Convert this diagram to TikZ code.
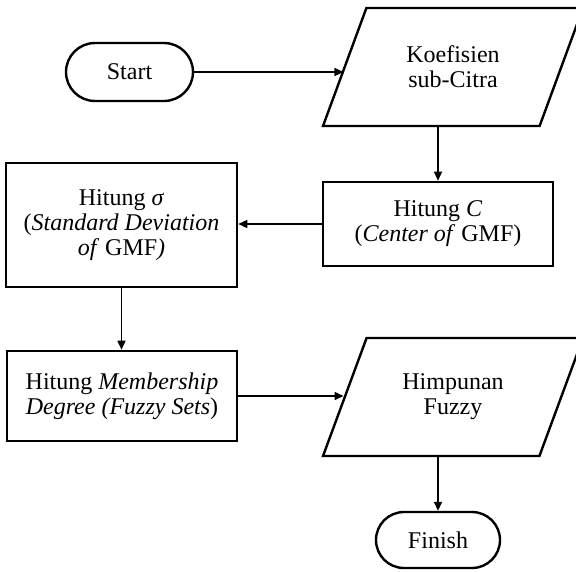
\documentclass[tikz,border=0pt]{standalone}
\usepackage{fontspec}
\setmainfont{Liberation Serif}
\usetikzlibrary{arrows.meta, shapes.geometric, shapes.misc}

\begin{document}
\begin{tikzpicture}[x=1pt, y=-1pt,
	every node/.style={font=\fontsize{24}{25}\selectfont, align=center, inner sep=0pt},
	term/.style={draw, line width=2.4pt, rounded rectangle},
	io/.style={draw, line width=2.4pt, trapezium, trapezium left angle=61, trapezium right angle=119,
		trapezium stretches=true, minimum width=260pt, minimum height=118pt},
	proc/.style={draw, line width=2.6pt, rectangle},
	flow/.style={line width=1.6pt, -{Triangle[length=9pt, width=8pt]}}]
				\useasboundingbox (0,0) rectangle (576,571);

				\node[term, minimum width=127pt, minimum height=58pt] (start) at (129.5,72) {Start};
				\node[io] (koef) at (453,67) {Koefisien\\sub-Citra};
				\node[proc, minimum width=230pt, minimum height=84pt] (hitc) at (438,224) {Hitung \textit{C}\\(\textit{Center of} GMF)};
				\node[proc, minimum width=231pt, minimum height=124pt] (hitsig) at (121.5,225) {Hitung \textit{σ}\\(\textit{Standard Deviation}\\\textit{of} GMF\textit{)}};
				\node[proc, minimum width=230pt, minimum height=90pt] (hitmemb) at (122,396) {Hitung \textit{Membership}\\\textit{Degree (Fuzzy Sets})};
				\node[io] (himp) at (453,397) {Himpunan\\Fuzzy};
				\node[term, minimum width=124pt, minimum height=56pt] (finish) at (438,540) {Finish};

				\draw[flow] (start.east) -- (start.east -| koef.west);
				\draw[flow] (koef.south -| hitc.north) -- (hitc.north);
				\draw[flow] (hitc.west) -- (hitsig.east |- hitc.west);
				\draw[flow] (hitsig.south) -- (hitsig.south |- hitmemb.north);
				\draw[flow] (hitmemb.east) -- (hitmemb.east -| himp.west);
				\draw[flow] (himp.south -| finish.north) -- (finish.north);
\end{tikzpicture}
\end{document}
